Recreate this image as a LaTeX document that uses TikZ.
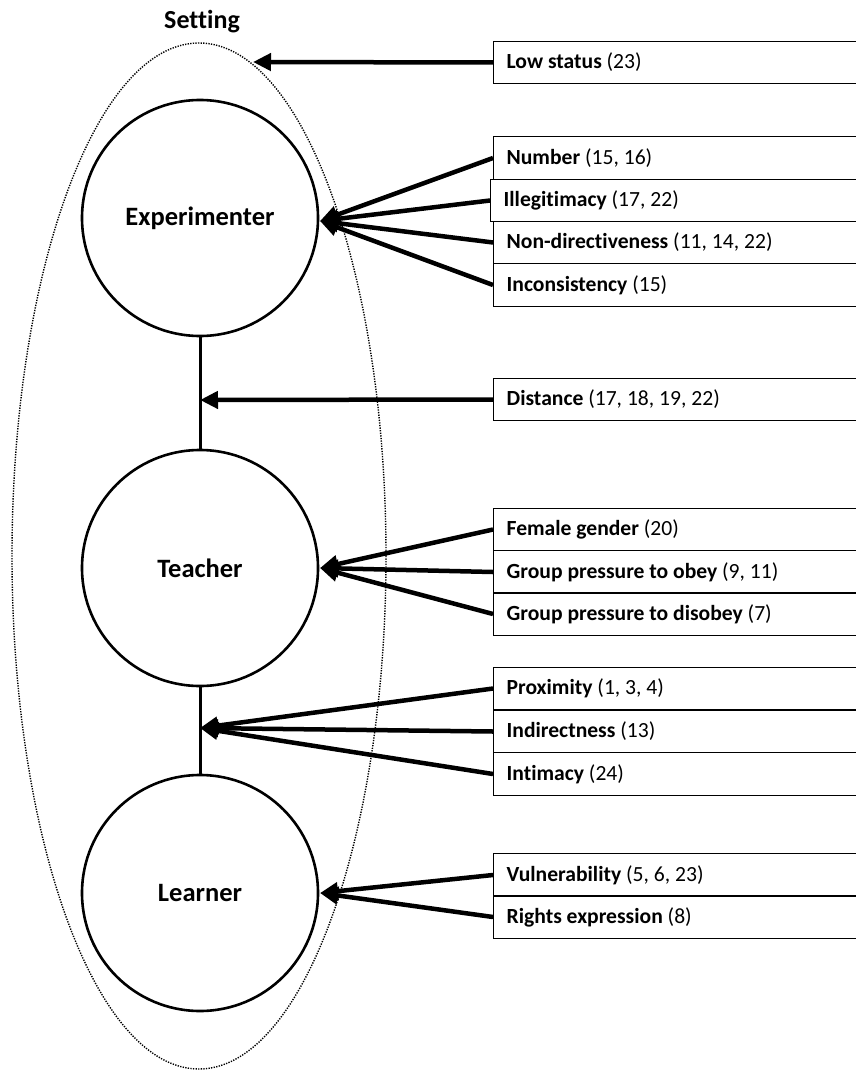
\documentclass[tikz,border=0pt]{standalone}
\usepackage{fontspec}
\setmainfont{Carlito}[Ligatures=NoCommon]
\usetikzlibrary{arrows.meta,shapes.geometric}
\tikzset{
  actor/.style={circle, draw, line width=2.6pt, minimum size=236pt, inner sep=0pt, font=\fontsize{26.5}{30}\selectfont\bfseries},
  factor/.style={draw, line width=1.3pt, anchor=west, minimum height=42.5pt, text width=380pt, inner xsep=13pt, inner ysep=0pt, align=flush left, font=\fontsize{21.6}{25}\selectfont},
  influence/.style={line width=4.5pt, -{Triangle[length=18pt,width=17pt]}},
  link/.style={line width=3pt},
  settingline/.style={line width=1.4pt, dash pattern=on 1.3pt off 1.3pt}
}
\begin{document}
\begin{tikzpicture}[x=1pt,y=-1pt]
\useasboundingbox (0,0) rectangle (856,1070);
\clip (0,0) rectangle (856,1070);
\fill[white] (0,0) rectangle (856,1070);

% setting ellipse
\node[ellipse, settingline, draw, minimum width=374pt, minimum height=1026pt, inner sep=0pt] (setting) at (199,556) {};
\node[font=\fontsize{26}{30}\selectfont\bfseries] (settinglabel) at (202,22) {Setting};

% actors
\node[actor] (exp) at (200,218) {Experimenter};
\node[actor] (tea) at (200,568) {Teacher};
\node[actor] (lea) at (200,893) {Learner};

\draw[link] (exp.south) -- (tea.north);
\draw[link] (tea.south) -- (lea.north);

\coordinate (lowtip) at (253,62);
\coordinate (m1) at (200,400);
\coordinate (m2) at (200,728);
\coordinate (expin) at (320,221);
\coordinate (teain) at (320,568);
\coordinate (leain) at (320,893);

% factor boxes
\node[factor] (low) at (493,62.5) {\textbf{Low status} (23)};

\node[factor] (num) at (493,158) {\textbf{Number} (15, 16)};
\node[factor] (ill) at (490,200.5) {\textbf{Illegitimacy} (17, 22)};
\node[factor] (nond) at (493,242.5) {\textbf{Non-directiveness} (11, 14, 22)};
\node[factor] (inc) at (493,285) {\textbf{Inconsistency} (15)};

\node[factor] (dist) at (493,399.5) {\textbf{Distance} (17, 18, 19, 22)};

\node[factor] (fem) at (493,529.5) {\textbf{Female gender} (20)};
\node[factor] (obey) at (493,572) {\textbf{Group pressure to obey} (9, 11)};
\node[factor] (disobey) at (493,614) {\textbf{Group pressure to disobey} (7)};

\node[factor] (prox) at (493,688.5) {\textbf{Proximity} (1, 3, 4)};
\node[factor] (indir) at (493,731.5) {\textbf{Indirectness} (13)};
\node[factor] (intim) at (493,774) {\textbf{Intimacy} (24)};

\node[factor] (vul) at (493,875) {\textbf{Vulnerability} (5, 6, 23)};
\node[factor] (rights) at (493,917) {\textbf{Rights expression} (8)};

% influences
\draw[influence] (low.west) -- (lowtip);

\draw[influence] (num.west) -- (expin);
\draw[influence] (ill.west) -- (expin);
\draw[influence] (nond.west) -- (expin);
\draw[influence] (inc.west) -- (expin);

\draw[influence] (dist.west) -- (m1);

\draw[influence] (fem.west) -- (teain);
\draw[influence] (obey.west) -- (teain);
\draw[influence] (disobey.west) -- (teain);

\draw[influence] (prox.west) -- (m2);
\draw[influence] (indir.west) -- (m2);
\draw[influence] (intim.west) -- (m2);

\draw[influence] (vul.west) -- (leain);
\draw[influence] (rights.west) -- (leain);
\end{tikzpicture}
\end{document}
